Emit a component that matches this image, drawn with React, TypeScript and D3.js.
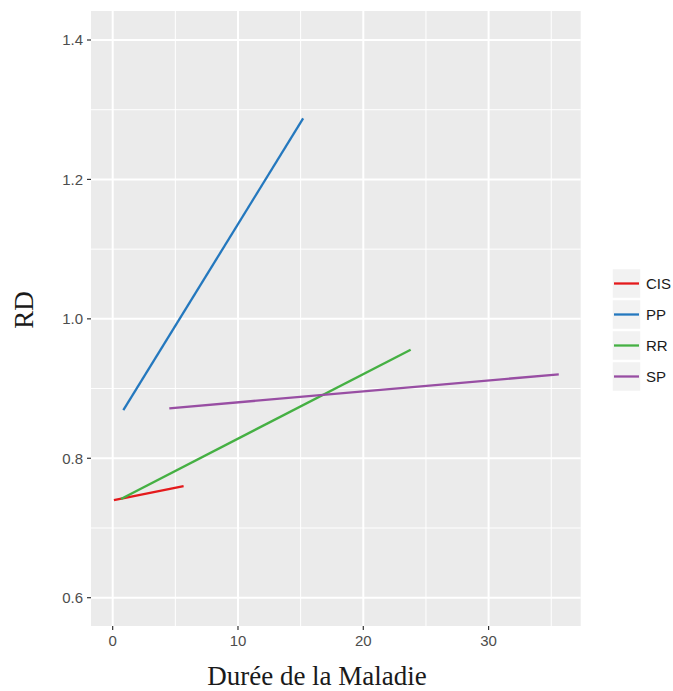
import React from "react";
import * as d3 from "d3";

const groups = ["CIS", "PP", "RR", "SP"];
const colors = ["#E41A1C", "#2478BE", "#45B043", "#984EA3"];
const xStart = [0.1, 0.85, 0.66, 4.52];
const xEnd = [5.66, 15.2, 23.78, 35.6];
const yStart = [0.740, 0.869, 0.7417, 0.8717];
const yEnd = [0.760, 1.2875, 0.9558, 0.9204];
const xTicks = [0, 10, 20, 30];
const yTicks = [0.6, 0.8, 1.0, 1.2, 1.4];
const xMinor = [5, 15, 25, 35];
const yMinor = [0.7, 0.9, 1.1, 1.3];

export default function App() {
  const W = 673, H = 691;
  const L = 91, R = 580.7, T = 11, B = 626;
  const x = d3.scaleLinear().domain([-1.73, 37.35]).range([L, R]);
  const y = d3.scaleLinear().domain([0.5594, 1.4416]).range([B, T]);
  const line = d3.line<[number, number]>().x(d => x(d[0])).y(d => y(d[1]));
  const sans = "Helvetica, Arial, 'Liberation Sans', sans-serif";
  const serif = "'Times New Roman', 'Liberation Serif', serif";
  return (
    <svg width={W} height={H} style={{ position: "absolute", left: 0, top: 0, background: "#fff" }}>
      <rect x={L} y={T} width={R - L} height={B - T} fill="#EBEBEB" />
      {xMinor.map(v => (
        <line key={"xm" + v} x1={x(v)} x2={x(v)} y1={T} y2={B} stroke="#fff" strokeWidth={1} />
      ))}
      {yMinor.map(v => (
        <line key={"ym" + v} x1={L} x2={R} y1={y(v)} y2={y(v)} stroke="#fff" strokeWidth={1} />
      ))}
      {xTicks.map(v => (
        <line key={"xM" + v} x1={x(v)} x2={x(v)} y1={T} y2={B} stroke="#fff" strokeWidth={2} />
      ))}
      {yTicks.map(v => (
        <line key={"yM" + v} x1={L} x2={R} y1={y(v)} y2={y(v)} stroke="#fff" strokeWidth={2} />
      ))}
      {groups.map((g, i) => (
        <path key={g} d={line([[xStart[i], yStart[i]], [xEnd[i], yEnd[i]]]) || ""} stroke={colors[i]} strokeWidth={2.3} fill="none" />
      ))}
      {xTicks.map(v => (
        <g key={"xt" + v}>
          <line x1={x(v)} x2={x(v)} y1={B} y2={B + 4} stroke="#333" strokeWidth={1.2} />
          <text x={x(v)} y={645.5} textAnchor="middle" fontFamily={sans} fontSize={15} fill="#4D4D4D">
            {d3.format("d")(v)}
          </text>
        </g>
      ))}
      {yTicks.map(v => (
        <g key={"yt" + v}>
          <line x1={L - 4} x2={L} y1={y(v)} y2={y(v)} stroke="#333" strokeWidth={1.2} />
          <text x={83} y={y(v)} dy="0.35em" textAnchor="end" fontFamily={sans} fontSize={15} fill="#4D4D4D">
            {d3.format(".1f")(v)}
          </text>
        </g>
      ))}
      <text x={317} y={685} textAnchor="middle" fontFamily={serif} fontSize={27} fill="#1a1a1a">
        Durée de la Maladie
      </text>
      <text transform="translate(33,310) rotate(-90)" textAnchor="middle" fontFamily={serif} fontSize={27} fill="#1a1a1a">
        RD
      </text>
      {groups.map((g, i) => {
        const cy = 283.5 + i * 31;
        return (
          <g key={"lg" + g}>
            <rect x={612} y={cy - 15} width={29} height={30} fill="#F2F2F2" stroke="#fff" strokeWidth={1.5} />
            <line x1={614} x2={639} y1={cy} y2={cy} stroke={colors[i]} strokeWidth={2.3} />
            <text x={646} y={cy} dy="0.36em" fontFamily={sans} fontSize={15} fill="#1a1a1a">
              {g}
            </text>
          </g>
        );
      })}
    </svg>
  );
}
